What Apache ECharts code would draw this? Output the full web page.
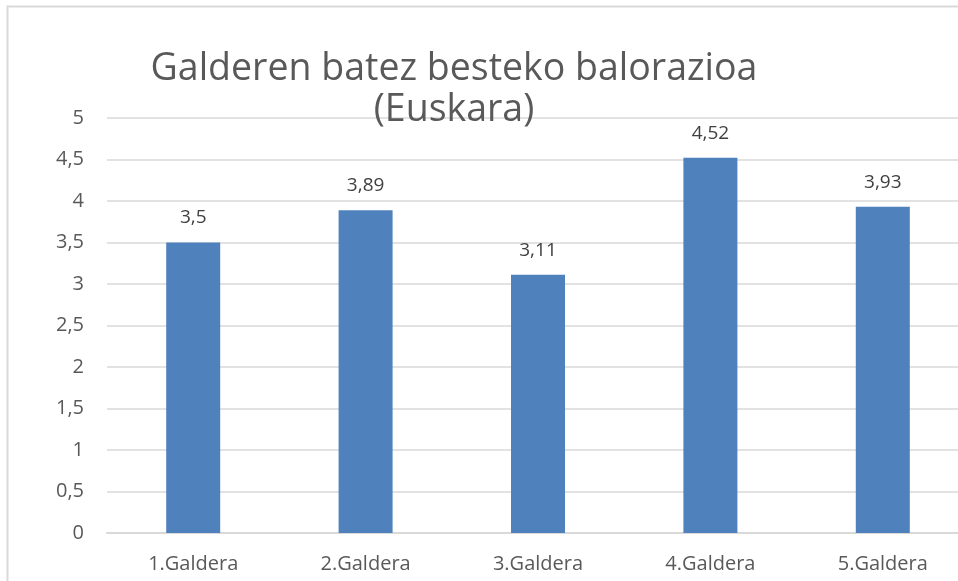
<!DOCTYPE html>
<html><head><meta charset="utf-8">
<script src="https://cdn.jsdelivr.net/npm/echarts@6/dist/echarts.min.js"></script>
<style>html,body{margin:0;padding:0;background:#fff;}#c{width:958px;height:581px;}</style>
</head><body><div id="c"></div>
<script>
var categories = ['1.Galdera','2.Galdera','3.Galdera','4.Galdera','5.Galdera'];
var values = [3.5, 3.89, 3.11, 4.52, 3.93];
var titleText = 'Galderen batez besteko balorazioa\n(Euskara)';
function fmt(v){ return String(v).replace('.', ','); }
var chart = echarts.init(document.getElementById('c'));
chart.setOption({
  animation:false,
  graphic:[{type:'rect', shape:{x:7.5,y:6.5,width:1000,height:1000}, style:{fill:'none', stroke:'#d9d9d9', lineWidth:2}, z:-1}],
  title:{text:titleText, left:449, top:44, textAlign:'center',
    textStyle:{fontFamily:'Open Sans', fontSize:37.5, fontWeight:'normal', color:'#595959', lineHeight:41}},
  grid:{left:107, width:862, top:118, height:415, containLabel:false, outerBoundsMode:'none'},
  xAxis:{type:'category', data:categories,
    axisLine:{lineStyle:{color:'#d9d9d9', width:2}}, axisTick:{show:false},
    axisLabel:{color:'#595959', fontFamily:'Open Sans', fontSize:20, margin:21}},
  yAxis:{type:'value', min:0, max:5, interval:0.5,
    axisLine:{show:false}, axisTick:{show:false},
    splitLine:{lineStyle:{color:'#d9d9d9', width:1.5}},
    axisLabel:{color:'#595959', fontFamily:'Open Sans', fontSize:20, margin:23, formatter:fmt}},
  series:[{type:'bar', data:values, barWidth:54, itemStyle:{color:'#4f81bd'},
    label:{show:true, position:'top', distance:15, color:'#404040', fontFamily:'Open Sans', fontSize:19,
      formatter:function(p){return fmt(p.value);}}}]
});
</script></body></html>
